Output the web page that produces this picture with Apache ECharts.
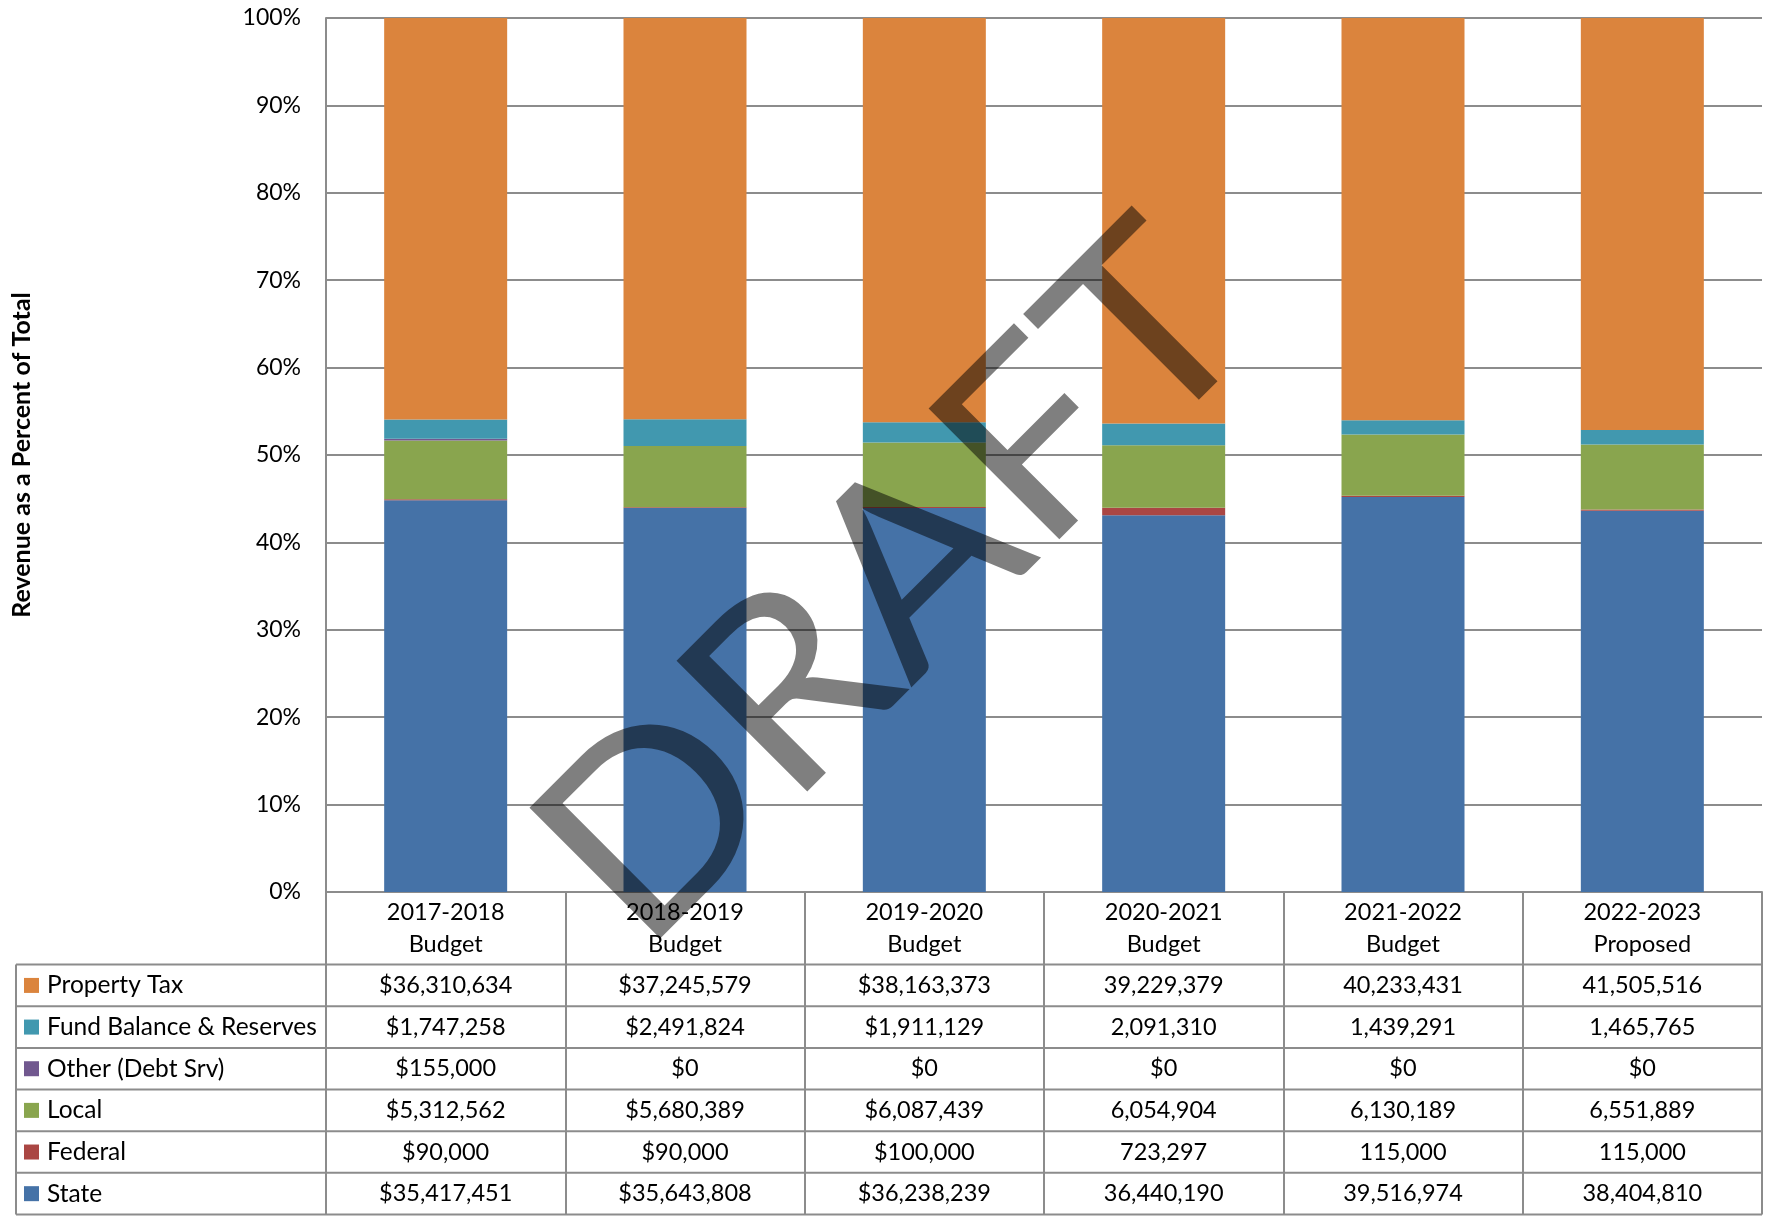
<!DOCTYPE html>
<html><head><meta charset="utf-8">
<script src="https://cdn.jsdelivr.net/npm/echarts@6/dist/echarts.min.js"></script>
<style>html,body{margin:0;padding:0;background:#fff}#c{width:1765px;height:1216px}</style>
</head><body><div id="c"></div>
<script>
// ---- data ----
const categories = ['2017-2018\nBudget','2018-2019\nBudget','2019-2020\nBudget','2020-2021\nBudget','2021-2022\nBudget','2022-2023\nProposed'];
const propertyTax = [36310634,37245579,38163373,39229379,40233431,41505516];
const fundBalance = [1747258,2491824,1911129,2091310,1439291,1465765];
const otherDebt   = [155000,0,0,0,0,0];
const local       = [5312562,5680389,6087439,6054904,6130189,6551889];
const federal     = [90000,90000,100000,723297,115000,115000];
const state       = [35417451,35643808,36238239,36440190,39516974,38404810];
const dollarPrefix = [true,true,true,false,false,false]; // table format per column
const yTickLabels = ['0%','10%','20%','30%','40%','50%','60%','70%','80%','90%','100%'];

// stacking order bottom -> top
const stackNames  = ['State','Federal','Local','Other (Debt Srv)','Fund Balance & Reserves','Property Tax'];
const stackValues = [state,federal,local,otherDebt,fundBalance,propertyTax];
const stackColors = ['#4572A7','#AA4643','#89A54E','#71588F','#4198AF','#DB843D'];
// table order top -> bottom
const tableOrder = [5,4,3,2,1,0];

// ---- layout ----
const FONT = 'Lato';
const W = 1765, H = 1216;
const GL = 326, GR = 1762, GT = 18, GB = 892;
const TABLE_LEFT = 16, HEADER_BOTTOM = 964.6, ROW_H = 41.65;
const LINE = '#8c8c8c';

const totals = categories.map((_, i) => stackValues.reduce((s, arr) => s + arr[i], 0));
const fmt = (v, col) => v === 0 ? '$0' : (dollarPrefix[col] ? '$' : '') + v.toLocaleString('en-US');

const series = stackNames.map((name, k) => ({
  name, type: 'bar', stack: 'total', xAxisIndex: 0, yAxisIndex: 0,
  barWidth: 123,
  itemStyle: { color: stackColors[k] },
  data: stackValues[k].map((v, i) => v / totals[i] * 100)
}));

const xAxes = [{
  type: 'category', gridIndex: 0, data: categories, position: 'bottom',
  axisLine: { lineStyle: { color: LINE, width: 2 } },
  axisTick: { show: true, length: (HEADER_BOTTOM + 6 * ROW_H) - GB, lineStyle: { color: LINE, width: 2 } },
  axisLabel: { fontFamily: FONT, fontSize: 23.5, color: '#000', lineHeight: 32, margin: 4, interval: 0 }
}];
tableOrder.forEach((k, r) => {
  const center = HEADER_BOTTOM + ROW_H * (r + 0.5);
  xAxes.push({
    type: 'category', gridIndex: 0, position: 'bottom', offset: center - GB,
    data: stackValues[k].map((v, i) => fmt(v, i)),
    axisLine: { show: false }, axisTick: { show: false }, splitLine: { show: false },
    axisLabel: { fontFamily: FONT, fontSize: 23.5, color: '#000', margin: 0, verticalAlign: 'middle', interval: 0 }
  });
});

const graphic = [];
for (let r = 0; r <= 6; r++) {
  const y = HEADER_BOTTOM + r * ROW_H;
  graphic.push({ type: 'line', shape: { x1: TABLE_LEFT, y1: y, x2: GR, y2: y }, style: { stroke: LINE, lineWidth: 2 }, z: 5 });
}
graphic.push({ type: 'line', shape: { x1: TABLE_LEFT, y1: HEADER_BOTTOM, x2: TABLE_LEFT, y2: HEADER_BOTTOM + 6 * ROW_H }, style: { stroke: LINE, lineWidth: 2 }, z: 5 });
graphic.push({ type: 'text', x: 22, y: 455, rotation: Math.PI / 2,
  style: { text: 'Revenue as a Percent of Total', font: 'bold 25px ' + FONT, fill: '#000', align: 'center', verticalAlign: 'middle' } });
graphic.push({ type: 'text', x: 895, y: 586, rotation: Math.PI / 4, scaleX: 1.06, z: 100,
  style: { text: 'DRAFT', font: '258px ' + FONT, fill: 'rgba(0,0,0,0.5)', align: 'center', verticalAlign: 'middle' } });

const chart = echarts.init(document.getElementById('c'), null, { renderer: 'canvas' });
chart.setOption({
  animation: false,
  backgroundColor: '#fff',
  grid: { left: GL, right: W - GR, top: GT, bottom: H - GB, containLabel: false, outerBoundsMode: 'none' },
  legend: {
    orient: 'vertical', left: 24, top: HEADER_BOTTOM, itemGap: 0, padding: 0,
    itemWidth: 15, itemHeight: 15, icon: 'rect', selectedMode: false,
    data: tableOrder.map(k => stackNames[k]),
    textStyle: { fontFamily: FONT, fontSize: 24.5, color: '#000', lineHeight: ROW_H, padding: [0, 0, 0, 3] }
  },
  xAxis: xAxes,
  yAxis: {
    type: 'value', min: 0, max: 100, interval: 10,
    axisLine: { show: true, lineStyle: { color: LINE, width: 2 } },
    axisTick: { show: false },
    splitLine: { show: true, lineStyle: { color: LINE, width: 2 } },
    axisLabel: { fontFamily: FONT, fontSize: 23, color: '#000', margin: 25,
      formatter: (v) => yTickLabels[Math.round(v / 10)] }
  },
  series,
  graphic
});
</script></body></html>
